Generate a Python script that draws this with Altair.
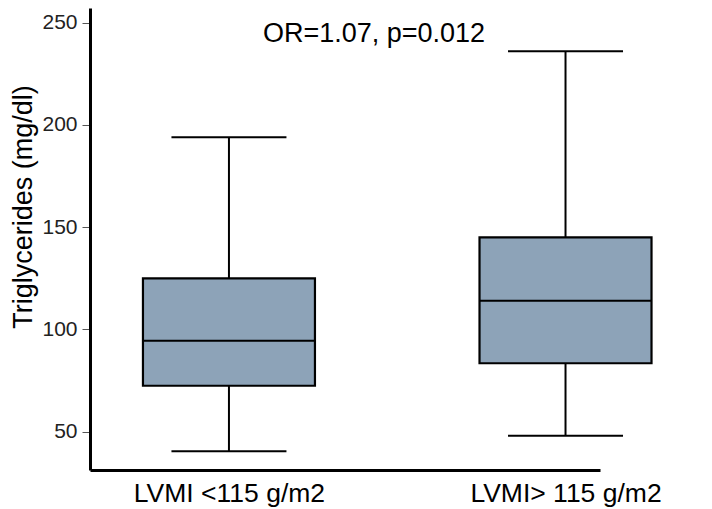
import altair as alt
import pandas as pd

# ---- data ----
categories = ["LVMI <115 g/m2", "LVMI> 115 g/m2"]
group_index = [1, 2]
lower = [40.5, 48.0]
q1 = [72.5, 83.5]
median = [94.5, 114.0]
q3 = [125.0, 145.0]
upper = [194.0, 236.0]
y_ticks = [50, 100, 150, 200, 250]
annotation = "OR=1.07, p=0.012"

df = pd.DataFrame({
    "group": group_index,
    "label": categories,
    "lower": lower,
    "q1": q1,
    "median": median,
    "q3": q3,
    "upper": upper,
})

FONT = "Liberation Sans"
BOX_FILL = "#8DA3B8"

label_expr = " : ".join(
    [f"datum.value < {i + 0.5} ? '{c}'" for i, c in zip(group_index[:-1], categories[:-1])]
    + [f"'{categories[-1]}'"]
)

x_scale = alt.Scale(domain=[0.602, 2.0876], nice=False, zero=False)
y_scale = alt.Scale(domain=[31.3, 257.2], nice=False, zero=False)

x_enc = alt.X(
    "group:Q",
    scale=x_scale,
    axis=alt.Axis(
        values=group_index,
        labelExpr=label_expr,
        title=None,
        ticks=False,
        grid=False,
        domainColor="black",
        domainWidth=3,
        labelFont=FONT,
        labelFontSize=26.5,
        labelColor="black",
        labelPadding=10,
        labelFlush=False,
        labelLimit=0,
        labelOverlap=False,
    ),
)

y_axis = alt.Axis(
    values=y_ticks,
    title="Triglycerides (mg/dl)",
    grid=False,
    domainColor="black",
    domainWidth=3,
    tickColor="#555555",
    tickWidth=1,
    tickSize=8,
    labelFont=FONT,
    labelFontSize=21,
    labelColor="#222222",
    labelPadding=5,
    titleFont=FONT,
    titleFontSize=27,
    titleFontWeight="normal",
    titleColor="black",
    titleAngle=270,
    titleAlign="center",
    titleBaseline="middle",
    titleLimit=0,
    titleX=-67,
    titleY=198.5,
)

base = alt.Chart(df)

whisker_hi = base.mark_rule(color="black", strokeWidth=2).encode(
    x=x_enc, y=alt.Y("q3:Q", scale=y_scale, axis=y_axis), y2="upper:Q"
)
whisker_lo = base.mark_rule(color="black", strokeWidth=2).encode(
    x=x_enc, y=alt.Y("lower:Q", scale=y_scale), y2="q1:Q"
)
box = base.mark_bar(
    size=172, fill=BOX_FILL, stroke="black", strokeWidth=2.2, orient="vertical"
).encode(x=x_enc, y=alt.Y("q1:Q", scale=y_scale), y2="q3:Q")
med = base.mark_tick(
    orient="horizontal", size=172, thickness=2, color="black", opacity=1
).encode(x=x_enc, y=alt.Y("median:Q", scale=y_scale))
cap_hi = base.mark_tick(
    orient="horizontal", size=115, thickness=2, color="black", opacity=1
).encode(x=x_enc, y=alt.Y("upper:Q", scale=y_scale))
cap_lo = base.mark_tick(
    orient="horizontal", size=115, thickness=2, color="black", opacity=1
).encode(x=x_enc, y=alt.Y("lower:Q", scale=y_scale))

note = alt.Chart(pd.DataFrame({"t": [annotation]})).mark_text(
    font=FONT, fontSize=27, color="black", align="center", baseline="alphabetic"
).encode(text="t:N", x=alt.value(284), y=alt.value(33.7))

chart = (
    alt.layer(whisker_hi, whisker_lo, box, med, cap_hi, cap_lo, note)
    .properties(
        width=510,
        height=462,
        padding={"left": 82, "top": 0, "right": 100, "bottom": 39},
        autosize=alt.AutoSizeParams(type="none"),
        background="white",
    )
    .configure_view(stroke=None)
)

chart.save("out.html", embed_options={"renderer": "svg", "actions": False})
